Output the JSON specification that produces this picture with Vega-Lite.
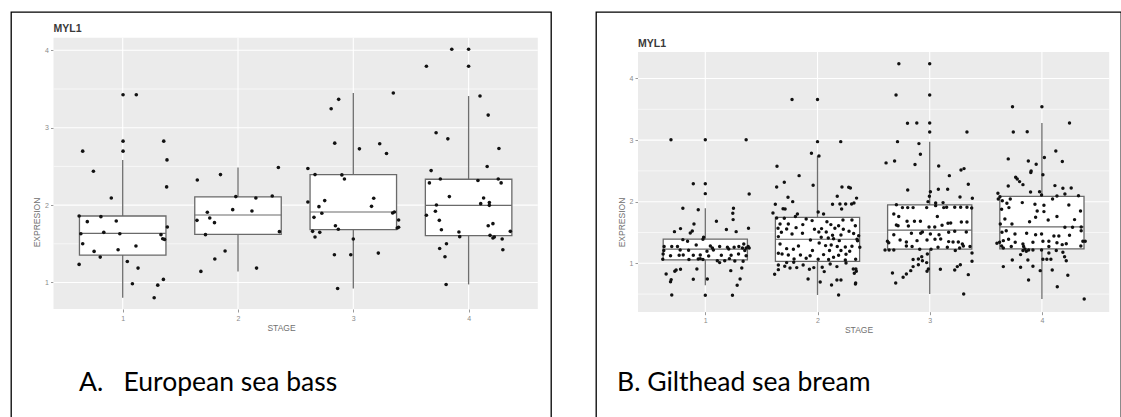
{
  "$schema": "https://vega.github.io/schema/vega-lite/v6.json",
  "background": "white",
  "padding": {"left": 10, "top": 11, "right": 0, "bottom": 0},
  "spacing": 43,
  "config": {
    "view": {"stroke": "#000000", "strokeWidth": 1.3, "fill": "white"},
    "axis": {"labelFont": "Liberation Sans", "titleFont": "Liberation Sans", "domain": false, "grid": false, "ticks": true, "tickSize": 3, "tickColor": "#9a9a9a", "labelFontSize": 7, "labelColor": "#8a8a8a", "labelPadding": 2, "titleFontSize": 8.5, "titleColor": "#707070", "titleFontWeight": "normal", "labelFlush": false}
  },
  "datasets": {
    "gridMajor": [{"g": 1}, {"g": 2}, {"g": 3}, {"g": 4}],
    "gridMinorA": [{"g": 1.5}, {"g": 2.5}, {"g": 3.5}],
    "gridMinorB": [{"g": 0.5}, {"g": 1.5}, {"g": 2.5}, {"g": 3.5}],
    "boxA": [
      {"stage": 1, "lower": 0.802, "q1": 1.354, "median": 1.635, "q3": 1.859, "upper": 2.584},
      {"stage": 2, "lower": 1.143, "q1": 1.622, "median": 1.872, "q3": 2.105, "upper": 2.485},
      {"stage": 3, "lower": 0.923, "q1": 1.682, "median": 1.911, "q3": 2.394, "upper": 3.448},
      {"stage": 4, "lower": 0.975, "q1": 1.605, "median": 1.997, "q3": 2.334, "upper": 3.409}
    ],
    "boxB": [
      {"stage": 1, "lower": 0.643, "q1": 1.057, "median": 1.23, "q3": 1.392, "upper": 1.893},
      {"stage": 2, "lower": 0.486, "q1": 1.03, "median": 1.39, "q3": 1.747, "upper": 2.743},
      {"stage": 3, "lower": 0.502, "q1": 1.23, "median": 1.538, "q3": 1.948, "upper": 2.975},
      {"stage": 4, "lower": 0.421, "q1": 1.235, "median": 1.592, "q3": 2.085, "upper": 3.277}
    ],
    "ptsA": [
      {"x":0.622,"y":1.234},{"x":0.653,"y":2.697},{"x":0.746,"y":2.438},{"x":0.622,"y":1.859},{"x":0.693,"y":1.786},{"x":0.811,"y":1.851},{"x":0.637,"y":1.63},{"x":0.653,"y":1.501},{"x":0.752,"y":1.402},{"x":0.805,"y":1.328},{"x":0.836,"y":1.648},{"x":0.901,"y":2.092},{"x":0.944,"y":1.795},{"x":0.96,"y":1.423},{"x":0.975,"y":1.63},{"x":1.003,"y":3.426},{"x":1.118,"y":3.426},{"x":1.003,"y":2.826},{"x":1.003,"y":2.697},{"x":1.04,"y":1.272},{"x":1.084,"y":0.983},{"x":1.115,"y":1.471},{"x":1.133,"y":1.186},{"x":1.273,"y":0.802},{"x":1.304,"y":0.966},{"x":1.353,"y":1.04},{"x":1.356,"y":2.826},{"x":1.384,"y":2.584},{"x":1.381,"y":2.235},{"x":1.387,"y":1.717},{"x":1.332,"y":1.618},{"x":1.347,"y":1.566},{"x":1.363,"y":1.557},
      {"x":1.647,"y":2.325},{"x":1.644,"y":1.803},{"x":1.678,"y":1.143},{"x":1.734,"y":1.907},{"x":1.755,"y":1.833},{"x":1.718,"y":1.618},{"x":1.796,"y":1.773},{"x":1.799,"y":1.303},{"x":1.848,"y":2.394},{"x":1.888,"y":1.406},{"x":1.954,"y":1.941},{"x":1.981,"y":2.11},{"x":2.121,"y":1.924},{"x":2.155,"y":2.092},{"x":2.161,"y":1.186},{"x":2.297,"y":2.118},{"x":2.35,"y":2.485},{"x":2.359,"y":1.657},
      {"x":2.606,"y":2.472},{"x":2.606,"y":2.04},{"x":2.668,"y":2.394},{"x":2.808,"y":3.245},{"x":2.873,"y":3.366},{"x":2.839,"y":2.8},{"x":2.702,"y":1.98},{"x":2.752,"y":2.058},{"x":2.727,"y":1.894},{"x":2.659,"y":1.842},{"x":2.647,"y":1.661},{"x":2.668,"y":1.587},{"x":2.709,"y":1.648},{"x":2.901,"y":2.39},{"x":2.923,"y":2.338},{"x":2.845,"y":1.734},{"x":2.87,"y":1.687},{"x":2.836,"y":1.359},{"x":2.864,"y":0.923},{"x":2.978,"y":1.359},{"x":3.0,"y":1.562},{"x":3.053,"y":2.727},{"x":3.177,"y":2.088},{"x":3.158,"y":1.984},{"x":3.229,"y":2.792},{"x":3.288,"y":2.666},{"x":3.217,"y":1.38},{"x":3.347,"y":3.448},{"x":3.341,"y":1.898},{"x":3.356,"y":1.911},{"x":3.393,"y":1.807},{"x":3.381,"y":1.704},{"x":3.393,"y":1.713},
      {"x":3.634,"y":3.793},{"x":3.854,"y":4.013},{"x":4.0,"y":4.013},{"x":4.0,"y":3.793},{"x":4.099,"y":3.409},{"x":3.718,"y":2.934},{"x":3.82,"y":2.856},{"x":3.675,"y":2.446},{"x":3.66,"y":2.287},{"x":3.755,"y":2.338},{"x":3.833,"y":2.11},{"x":3.721,"y":2.002},{"x":3.634,"y":1.868},{"x":3.712,"y":1.92},{"x":3.746,"y":1.803},{"x":3.764,"y":1.682},{"x":3.749,"y":1.44},{"x":3.808,"y":1.501},{"x":3.795,"y":1.333},{"x":3.805,"y":0.975},{"x":3.916,"y":1.652},{"x":3.923,"y":1.592},{"x":4.081,"y":2.317},{"x":4.13,"y":2.092},{"x":4.105,"y":2.019},{"x":4.18,"y":2.032},{"x":4.18,"y":1.997},{"x":4.161,"y":2.498},{"x":4.17,"y":3.163},{"x":4.263,"y":2.731},{"x":4.257,"y":2.338},{"x":4.282,"y":2.287},{"x":4.17,"y":1.734},{"x":4.211,"y":1.76},{"x":4.186,"y":1.609},{"x":4.211,"y":1.574},{"x":4.223,"y":1.587},{"x":4.291,"y":1.562},{"x":4.297,"y":1.423},{"x":4.362,"y":1.661}
    ],
    "ptsB": [
      {"x":0.694,"y":3.007},{"x":1.0,"y":3.007},{"x":1.364,"y":3.007},{"x":0.893,"y":2.293},{"x":1.0,"y":2.293},{"x":1.0,"y":2.131},{"x":1.391,"y":2.126},{"x":0.8,"y":1.893},{"x":0.937,"y":1.871},{"x":1.251,"y":1.893},{"x":1.245,"y":1.812},{"x":1.248,"y":1.709},{"x":1.099,"y":1.682},{"x":1.385,"y":1.568},{"x":0.725,"y":1.514},{"x":0.779,"y":1.563},{"x":0.899,"y":1.639},{"x":0.866,"y":1.492},{"x":0.884,"y":1.525},{"x":1.188,"y":1.547},{"x":1.275,"y":1.514},{"x":0.8,"y":1.384},{"x":0.842,"y":1.357},{"x":0.985,"y":1.422},{"x":0.979,"y":1.39},{"x":0.633,"y":1.271},{"x":0.701,"y":1.271},{"x":0.752,"y":1.271},{"x":0.919,"y":1.298},{"x":1.045,"y":1.281},{"x":1.063,"y":1.249},{"x":1.128,"y":1.271},{"x":1.197,"y":1.26},{"x":1.257,"y":1.26},{"x":1.299,"y":1.271},{"x":1.343,"y":1.314},{"x":1.364,"y":1.249},{"x":1.382,"y":1.271},{"x":1.391,"y":1.249},{"x":0.63,"y":1.206},{"x":0.776,"y":1.216},{"x":0.851,"y":1.211},{"x":1.015,"y":1.195},{"x":1.072,"y":1.216},{"x":1.209,"y":1.233},{"x":1.331,"y":1.249},{"x":1.352,"y":1.206},{"x":0.624,"y":1.152},{"x":0.69,"y":1.124},{"x":0.767,"y":1.13},{"x":0.803,"y":1.135},{"x":0.893,"y":1.13},{"x":0.955,"y":1.135},{"x":1.03,"y":1.119},{"x":1.143,"y":1.13},{"x":1.23,"y":1.13},{"x":1.296,"y":1.152},{"x":1.364,"y":1.124},{"x":0.621,"y":1.065},{"x":0.854,"y":1.06},{"x":0.937,"y":1.07},{"x":0.955,"y":1.076},{"x":0.979,"y":1.06},{"x":1.107,"y":1.043},{"x":1.173,"y":1.043},{"x":1.215,"y":1.076},{"x":1.263,"y":1.038},{"x":1.337,"y":1.032},{"x":0.651,"y":0.827},{"x":0.728,"y":0.87},{"x":0.74,"y":0.892},{"x":0.779,"y":0.903},{"x":0.696,"y":0.735},{"x":0.69,"y":0.702},{"x":0.893,"y":0.74},{"x":0.925,"y":0.908},{"x":1.018,"y":0.746},{"x":1.128,"y":1.011},{"x":1.227,"y":0.881},{"x":1.31,"y":0.746},{"x":1.325,"y":0.924},{"x":1.284,"y":0.643},{"x":0.701,"y":0.486},{"x":1.0,"y":0.481},{"x":1.242,"y":0.481},
      {"x":1.639,"y":2.575},{"x":1.836,"y":2.423},{"x":1.704,"y":2.315},{"x":1.636,"y":2.239},{"x":1.961,"y":2.266},{"x":2.218,"y":2.239},{"x":2.278,"y":2.234},{"x":2.293,"y":2.223},{"x":2.176,"y":2.088},{"x":1.737,"y":2.071},{"x":1.779,"y":2.001},{"x":1.624,"y":1.958},{"x":2.134,"y":1.958},{"x":2.2,"y":1.963},{"x":2.251,"y":1.963},{"x":2.304,"y":1.963},{"x":2.325,"y":1.979},{"x":1.693,"y":1.887},{"x":1.711,"y":1.882},{"x":1.603,"y":1.817},{"x":1.821,"y":1.801},{"x":2.006,"y":1.833},{"x":2.054,"y":1.801},{"x":2.215,"y":1.882},{"x":1.636,"y":1.736},{"x":1.704,"y":1.731},{"x":1.803,"y":1.758},{"x":1.899,"y":1.72},{"x":1.952,"y":1.693},{"x":2.084,"y":1.676},{"x":2.227,"y":1.703},{"x":2.307,"y":1.703},{"x":1.666,"y":1.639},{"x":1.74,"y":1.639},{"x":1.869,"y":1.628},{"x":2.119,"y":1.628},{"x":2.188,"y":1.611},{"x":2.337,"y":1.611},{"x":1.648,"y":1.568},{"x":1.725,"y":1.557},{"x":1.809,"y":1.579},{"x":1.973,"y":1.552},{"x":2.036,"y":1.563},{"x":2.155,"y":1.568},{"x":2.23,"y":1.552},{"x":2.281,"y":1.519},{"x":1.678,"y":1.503},{"x":1.773,"y":1.476},{"x":1.866,"y":1.487},{"x":2.012,"y":1.509},{"x":2.078,"y":1.509},{"x":2.134,"y":1.455},{"x":2.209,"y":1.46},{"x":2.322,"y":1.482},{"x":1.651,"y":1.433},{"x":1.937,"y":1.379},{"x":2.033,"y":1.422},{"x":2.096,"y":1.411},{"x":2.143,"y":1.4},{"x":2.194,"y":1.368},{"x":2.352,"y":1.39},{"x":1.666,"y":1.314},{"x":1.725,"y":1.238},{"x":1.83,"y":1.281},{"x":2.015,"y":1.33},{"x":2.072,"y":1.287},{"x":2.122,"y":1.298},{"x":2.176,"y":1.271},{"x":2.248,"y":1.265},{"x":2.307,"y":1.276},{"x":1.785,"y":1.227},{"x":1.955,"y":1.206},{"x":2.107,"y":1.206},{"x":2.209,"y":1.206},{"x":2.287,"y":1.195},{"x":1.651,"y":1.162},{"x":1.684,"y":1.152},{"x":1.74,"y":1.135},{"x":1.848,"y":1.135},{"x":1.934,"y":1.124},{"x":2.054,"y":1.141},{"x":2.188,"y":1.13},{"x":2.254,"y":1.146},{"x":1.791,"y":1.07},{"x":1.899,"y":1.081},{"x":2.006,"y":1.065},{"x":2.099,"y":1.06},{"x":2.143,"y":1.097},{"x":2.248,"y":1.054},{"x":2.34,"y":1.065},{"x":1.651,"y":0.973},{"x":1.708,"y":0.951},{"x":1.755,"y":0.924},{"x":1.815,"y":0.93},{"x":1.872,"y":0.973},{"x":1.928,"y":0.903},{"x":1.967,"y":0.93},{"x":2.042,"y":0.935},{"x":2.06,"y":0.865},{"x":2.113,"y":0.989},{"x":2.173,"y":0.946},{"x":2.254,"y":1.005},{"x":2.319,"y":0.908},{"x":2.328,"y":0.838},{"x":2.346,"y":0.87},{"x":1.725,"y":1.011},{"x":1.788,"y":1.016},{"x":1.618,"y":0.821},{"x":1.651,"y":0.897},{"x":1.916,"y":0.746},{"x":2.024,"y":0.697},{"x":2.125,"y":0.648},{"x":2.173,"y":0.729},{"x":2.209,"y":0.729},{"x":2.34,"y":0.681},{"x":2.188,"y":0.486},{"x":1.773,"y":3.66},{"x":2.0,"y":3.66},{"x":2.0,"y":2.975},{"x":2.207,"y":2.975},{"x":1.946,"y":2.786},{"x":2.013,"y":2.743},{"x":2.348,"y":2.058},{"x":2.357,"y":1.367},{"x":2.367,"y":1.448},{"x":2.342,"y":0.908},{"x":2.338,"y":0.665},{"x":2.377,"y":1.259},
      {"x":2.725,"y":4.238},{"x":3.0,"y":4.238},{"x":2.7,"y":3.731},{"x":3.0,"y":3.731},{"x":2.802,"y":3.272},{"x":2.885,"y":3.277},{"x":3.0,"y":3.277},{"x":3.0,"y":3.132},{"x":3.332,"y":3.132},{"x":2.713,"y":2.975},{"x":2.904,"y":2.943},{"x":2.917,"y":2.77},{"x":2.869,"y":2.603},{"x":2.687,"y":2.662},{"x":2.611,"y":2.63},{"x":3.08,"y":2.58},{"x":3.279,"y":2.515},{"x":3.306,"y":2.537},{"x":3.175,"y":2.423},{"x":3.344,"y":2.282},{"x":2.804,"y":2.19},{"x":3.006,"y":2.163},{"x":3.077,"y":2.201},{"x":3.16,"y":2.201},{"x":3.27,"y":2.077},{"x":3.38,"y":2.055},{"x":2.997,"y":2.088},{"x":2.985,"y":2.001},{"x":3.053,"y":1.979},{"x":3.119,"y":1.985},{"x":2.703,"y":1.952},{"x":2.757,"y":1.904},{"x":2.804,"y":1.904},{"x":2.852,"y":1.904},{"x":2.973,"y":1.904},{"x":3.053,"y":1.936},{"x":3.125,"y":1.904},{"x":3.151,"y":1.909},{"x":3.223,"y":1.909},{"x":3.276,"y":1.909},{"x":3.332,"y":1.909},{"x":3.374,"y":1.898},{"x":2.68,"y":1.801},{"x":2.724,"y":1.758},{"x":2.798,"y":1.682},{"x":2.864,"y":1.682},{"x":2.917,"y":1.682},{"x":3.068,"y":1.758},{"x":3.163,"y":1.649},{"x":3.187,"y":1.655},{"x":3.282,"y":1.671},{"x":3.332,"y":1.671},{"x":2.703,"y":1.622},{"x":2.718,"y":1.611},{"x":2.81,"y":1.606},{"x":2.994,"y":1.59},{"x":3.045,"y":1.59},{"x":3.11,"y":1.617},{"x":2.68,"y":1.465},{"x":2.837,"y":1.487},{"x":2.92,"y":1.487},{"x":2.935,"y":1.509},{"x":3.006,"y":1.476},{"x":3.083,"y":1.465},{"x":3.169,"y":1.503},{"x":3.223,"y":1.519},{"x":3.326,"y":1.509},{"x":2.623,"y":1.357},{"x":2.635,"y":1.335},{"x":2.736,"y":1.379},{"x":2.792,"y":1.346},{"x":2.887,"y":1.368},{"x":2.976,"y":1.379},{"x":3.047,"y":1.39},{"x":3.098,"y":1.395},{"x":3.169,"y":1.352},{"x":3.208,"y":1.346},{"x":3.255,"y":1.346},{"x":3.291,"y":1.314},{"x":3.3,"y":1.281},{"x":3.359,"y":1.271},{"x":2.602,"y":1.216},{"x":2.638,"y":1.216},{"x":2.68,"y":1.216},{"x":2.792,"y":1.281},{"x":2.843,"y":1.271},{"x":2.911,"y":1.227},{"x":3.012,"y":1.227},{"x":3.074,"y":1.26},{"x":3.157,"y":1.26},{"x":3.267,"y":1.249},{"x":2.852,"y":1.06},{"x":2.899,"y":1.07},{"x":2.929,"y":1.108},{"x":2.935,"y":1.043},{"x":2.979,"y":1.152},{"x":2.973,"y":1.011},{"x":2.988,"y":0.908},{"x":2.976,"y":0.87},{"x":2.899,"y":0.978},{"x":2.852,"y":0.946},{"x":3.095,"y":0.903},{"x":3.223,"y":0.892},{"x":3.246,"y":0.946},{"x":3.273,"y":0.978},{"x":3.228,"y":1.206},{"x":3.377,"y":1.032},{"x":3.377,"y":1.168},{"x":3.344,"y":0.816},{"x":2.668,"y":0.843},{"x":2.697,"y":0.681},{"x":2.763,"y":0.773},{"x":2.792,"y":0.827},{"x":2.831,"y":0.881},{"x":3.303,"y":0.502},
      {"x":3.738,"y":3.542},{"x":4.0,"y":3.542},{"x":3.745,"y":3.132},{"x":3.869,"y":3.137},{"x":4.246,"y":3.277},{"x":3.7,"y":2.695},{"x":3.879,"y":2.662},{"x":3.949,"y":2.608},{"x":4.022,"y":2.716},{"x":4.124,"y":2.824},{"x":4.182,"y":2.651},{"x":3.901,"y":2.473},{"x":3.904,"y":2.5},{"x":3.7,"y":2.255},{"x":3.766,"y":2.396},{"x":3.78,"y":2.369},{"x":3.801,"y":2.326},{"x":3.831,"y":2.277},{"x":4.009,"y":2.439},{"x":4.116,"y":2.261},{"x":4.187,"y":2.218},{"x":4.261,"y":2.223},{"x":4.205,"y":2.126},{"x":4.134,"y":2.093},{"x":3.979,"y":2.163},{"x":3.997,"y":2.109},{"x":3.899,"y":2.158},{"x":3.608,"y":2.136},{"x":3.626,"y":2.082},{"x":3.611,"y":2.044},{"x":3.647,"y":2.017},{"x":3.688,"y":1.974},{"x":3.718,"y":2.044},{"x":3.825,"y":1.985},{"x":3.938,"y":1.958},{"x":4.018,"y":1.942},{"x":4.095,"y":2.044},{"x":4.24,"y":1.947},{"x":4.326,"y":2.098},{"x":3.641,"y":1.877},{"x":3.706,"y":1.904},{"x":3.958,"y":1.85},{"x":4.018,"y":1.839},{"x":4.344,"y":1.85},{"x":3.67,"y":1.72},{"x":3.733,"y":1.639},{"x":3.89,"y":1.676},{"x":3.944,"y":1.747},{"x":4.056,"y":1.703},{"x":4.134,"y":1.758},{"x":4.291,"y":1.709},{"x":3.629,"y":1.639},{"x":4.205,"y":1.584},{"x":4.273,"y":1.584},{"x":4.35,"y":1.59},{"x":3.644,"y":1.503},{"x":3.682,"y":1.53},{"x":3.76,"y":1.476},{"x":3.864,"y":1.487},{"x":3.944,"y":1.465},{"x":3.997,"y":1.476},{"x":4.107,"y":1.444},{"x":4.151,"y":1.444},{"x":4.246,"y":1.455},{"x":4.35,"y":1.53},{"x":3.623,"y":1.341},{"x":3.656,"y":1.368},{"x":3.703,"y":1.39},{"x":3.762,"y":1.341},{"x":3.831,"y":1.314},{"x":3.92,"y":1.341},{"x":4.009,"y":1.357},{"x":4.062,"y":1.357},{"x":4.134,"y":1.335},{"x":4.217,"y":1.319},{"x":4.365,"y":1.357},{"x":4.386,"y":1.357},{"x":3.599,"y":1.325},{"x":3.641,"y":1.281},{"x":3.727,"y":1.271},{"x":3.837,"y":1.271},{"x":4.062,"y":1.271},{"x":4.181,"y":1.303},{"x":4.347,"y":1.281},{"x":3.656,"y":1.249},{"x":3.831,"y":1.206},{"x":3.849,"y":1.233},{"x":3.861,"y":1.195},{"x":3.882,"y":1.216},{"x":3.92,"y":1.216},{"x":3.997,"y":1.216},{"x":4.128,"y":1.206},{"x":4.187,"y":1.179},{"x":4.062,"y":1.168},{"x":3.736,"y":1.054},{"x":3.81,"y":1.141},{"x":3.875,"y":1.054},{"x":4.009,"y":1.065},{"x":4.044,"y":1.065},{"x":4.08,"y":1.065},{"x":4.202,"y":1.108},{"x":4.217,"y":1.043},{"x":3.656,"y":0.946},{"x":3.81,"y":0.935},{"x":3.92,"y":0.951},{"x":3.985,"y":0.881},{"x":4.092,"y":0.892},{"x":3.881,"y":0.729},{"x":4.231,"y":0.805},{"x":4.137,"y":0.621},{"x":4.377,"y":0.421}
    ]
  },
  "hconcat": [
    {
      "width": 540,
      "height": 420,
      "resolve": {"axis": {"x": "independent", "y": "independent"}},
      "title": {"text": "A.\u00a0\u00a0\u00a0European sea bass", "orient": "bottom", "frame": "group", "anchor": "start", "dx": 68, "offset": -41, "baseline": "alphabetic", "font": "Lato", "fontSize": 26.5, "fontWeight": "normal", "color": "#000000"},
      "layer": [
        {
          "data": {"values": [{}]},
          "mark": {"type": "rect", "color": "#EBEBEB"},
          "encoding": {
            "x": {"datum": 0.4, "type": "quantitative", "scale": {"domain": [0.0312, 4.7146], "nice": false, "zero": false, "padding": 0}, "axis": null},
            "x2": {"datum": 4.6},
            "y": {"datum": 0.658, "type": "quantitative", "scale": {"domain": [-0.9316, 4.4948], "nice": false, "zero": false, "padding": 0}, "axis": null},
            "y2": {"datum": 4.163}
          }
        },
        {
          "data": {"name": "gridMinorA"},
          "mark": {"type": "rule", "color": "white", "strokeWidth": 0.6},
          "encoding": {
            "y": {"field": "g", "type": "quantitative", "scale": {"domain": [-0.9316, 4.4948], "nice": false, "zero": false, "padding": 0}, "axis": null},
            "x": {"datum": 0.4, "type": "quantitative", "scale": {"domain": [0.0312, 4.7146], "nice": false, "zero": false, "padding": 0}, "axis": null},
            "x2": {"datum": 4.6}
          }
        },
        {
          "data": {"name": "gridMajor"},
          "mark": {"type": "rule", "color": "white", "strokeWidth": 1.1},
          "encoding": {
            "y": {"field": "g", "type": "quantitative", "scale": {"domain": [-0.9316, 4.4948], "nice": false, "zero": false, "padding": 0}, "axis": null},
            "x": {"datum": 0.4, "type": "quantitative", "scale": {"domain": [0.0312, 4.7146], "nice": false, "zero": false, "padding": 0}, "axis": null},
            "x2": {"datum": 4.6}
          }
        },
        {
          "data": {"name": "gridMajor"},
          "mark": {"type": "rule", "color": "white", "strokeWidth": 1.1},
          "encoding": {
            "x": {"field": "g", "type": "quantitative", "scale": {"domain": [0.0312, 4.7146], "nice": false, "zero": false, "padding": 0}, "axis": null},
            "y": {"datum": 0.658, "type": "quantitative", "scale": {"domain": [-0.9316, 4.4948], "nice": false, "zero": false, "padding": 0}, "axis": null},
            "y2": {"datum": 4.163}
          }
        },
        {
          "data": {"name": "boxA"},
          "mark": {"type": "rule", "color": "#6e6e6e", "strokeWidth": 1.3},
          "encoding": {
            "x": {"field": "stage", "type": "quantitative", "scale": {"domain": [0.0312, 4.7146], "nice": false, "zero": false, "padding": 0}, "axis": null},
            "y": {"field": "lower", "type": "quantitative", "scale": {"domain": [-0.9316, 4.4948], "nice": false, "zero": false, "padding": 0}, "axis": null},
            "y2": {"field": "upper"}
          }
        },
        {
          "data": {"name": "boxA"},
          "mark": {"type": "bar", "width": 86.5, "fill": "white", "stroke": "#6a6a6a", "strokeWidth": 1.3},
          "encoding": {
            "x": {"field": "stage", "type": "quantitative", "scale": {"domain": [0.0312, 4.7146], "nice": false, "zero": false, "padding": 0}, "axis": null},
            "y": {"field": "q1", "type": "quantitative", "scale": {"domain": [-0.9316, 4.4948], "nice": false, "zero": false, "padding": 0}, "axis": null},
            "y2": {"field": "q3"}
          }
        },
        {
          "data": {"name": "boxA"},
          "mark": {"type": "bar", "width": 86.5, "fill": null, "stroke": "#6a6a6a", "strokeWidth": 1.2},
          "encoding": {
            "x": {"field": "stage", "type": "quantitative", "scale": {"domain": [0.0312, 4.7146], "nice": false, "zero": false, "padding": 0}, "axis": null},
            "y": {"field": "median", "type": "quantitative", "scale": {"domain": [-0.9316, 4.4948], "nice": false, "zero": false, "padding": 0}, "axis": null},
            "y2": {"field": "median"}
          }
        },
        {
          "data": {"name": "ptsA"},
          "mark": {"type": "circle", "color": "#111111", "opacity": 1, "size": 13},
          "encoding": {
            "x": {"field": "x", "type": "quantitative", "scale": {"domain": [0.0312, 4.7146], "nice": false, "zero": false, "padding": 0}, "axis": {"values": [1, 2, 3, 4], "format": "d", "title": "STAGE", "offset": -123, "titlePadding": 2}},
            "y": {"field": "y", "type": "quantitative", "scale": {"domain": [-0.9316, 4.4948], "nice": false, "zero": false, "padding": 0}, "axis": {"values": [1, 2, 3, 4], "format": "d", "title": "EXPRESION", "offset": -42.5, "titlePadding": 3}}
          }
        },
        {
          "data": {"values": [{}]},
          "mark": {"type": "text", "text": "MYL1", "align": "left", "baseline": "alphabetic", "dy": -6, "font": "Liberation Sans", "fontSize": 10.5, "fontWeight": "bold", "color": "#3a3a3a"},
          "encoding": {
            "x": {"datum": 0.4, "type": "quantitative", "scale": {"domain": [0.0312, 4.7146], "nice": false, "zero": false, "padding": 0}, "axis": null},
            "y": {"datum": 4.163, "type": "quantitative", "scale": {"domain": [-0.9316, 4.4948], "nice": false, "zero": false, "padding": 0}, "axis": null}
          }
        }
      ]
    },
    {
      "width": 525,
      "height": 420,
      "resolve": {"axis": {"x": "independent", "y": "independent"}},
      "title": {"text": "B. Gilthead sea bream", "orient": "bottom", "frame": "group", "anchor": "start", "dx": 21, "offset": -41, "baseline": "alphabetic", "font": "Lato", "fontSize": 26.5, "fontWeight": "normal", "color": "#000000"},
      "layer": [
        {
          "data": {"values": [{}]},
          "mark": {"type": "rect", "color": "#EBEBEB"},
          "encoding": {
            "x": {"datum": 0.4, "type": "quantitative", "scale": {"domain": [0.0258, 4.7049], "nice": false, "zero": false, "padding": 0}, "axis": null},
            "x2": {"datum": 4.6},
            "y": {"datum": 0.21, "type": "quantitative", "scale": {"domain": [-1.7387, 5.0795], "nice": false, "zero": false, "padding": 0}, "axis": null},
            "y2": {"datum": 4.43}
          }
        },
        {
          "data": {"name": "gridMinorB"},
          "mark": {"type": "rule", "color": "white", "strokeWidth": 0.6},
          "encoding": {
            "y": {"field": "g", "type": "quantitative", "scale": {"domain": [-1.7387, 5.0795], "nice": false, "zero": false, "padding": 0}, "axis": null},
            "x": {"datum": 0.4, "type": "quantitative", "scale": {"domain": [0.0258, 4.7049], "nice": false, "zero": false, "padding": 0}, "axis": null},
            "x2": {"datum": 4.6}
          }
        },
        {
          "data": {"name": "gridMajor"},
          "mark": {"type": "rule", "color": "white", "strokeWidth": 1.1},
          "encoding": {
            "y": {"field": "g", "type": "quantitative", "scale": {"domain": [-1.7387, 5.0795], "nice": false, "zero": false, "padding": 0}, "axis": null},
            "x": {"datum": 0.4, "type": "quantitative", "scale": {"domain": [0.0258, 4.7049], "nice": false, "zero": false, "padding": 0}, "axis": null},
            "x2": {"datum": 4.6}
          }
        },
        {
          "data": {"name": "gridMajor"},
          "mark": {"type": "rule", "color": "white", "strokeWidth": 1.1},
          "encoding": {
            "x": {"field": "g", "type": "quantitative", "scale": {"domain": [0.0258, 4.7049], "nice": false, "zero": false, "padding": 0}, "axis": null},
            "y": {"datum": 0.21, "type": "quantitative", "scale": {"domain": [-1.7387, 5.0795], "nice": false, "zero": false, "padding": 0}, "axis": null},
            "y2": {"datum": 4.43}
          }
        },
        {
          "data": {"name": "boxB"},
          "mark": {"type": "rule", "color": "#6e6e6e", "strokeWidth": 1.3},
          "encoding": {
            "x": {"field": "stage", "type": "quantitative", "scale": {"domain": [0.0258, 4.7049], "nice": false, "zero": false, "padding": 0}, "axis": null},
            "y": {"field": "lower", "type": "quantitative", "scale": {"domain": [-1.7387, 5.0795], "nice": false, "zero": false, "padding": 0}, "axis": null},
            "y2": {"field": "upper"}
          }
        },
        {
          "data": {"name": "boxB"},
          "mark": {"type": "bar", "width": 84.2, "fill": "white", "stroke": "#6a6a6a", "strokeWidth": 1.3},
          "encoding": {
            "x": {"field": "stage", "type": "quantitative", "scale": {"domain": [0.0258, 4.7049], "nice": false, "zero": false, "padding": 0}, "axis": null},
            "y": {"field": "q1", "type": "quantitative", "scale": {"domain": [-1.7387, 5.0795], "nice": false, "zero": false, "padding": 0}, "axis": null},
            "y2": {"field": "q3"}
          }
        },
        {
          "data": {"name": "boxB"},
          "mark": {"type": "bar", "width": 84.2, "fill": null, "stroke": "#6a6a6a", "strokeWidth": 1.2},
          "encoding": {
            "x": {"field": "stage", "type": "quantitative", "scale": {"domain": [0.0258, 4.7049], "nice": false, "zero": false, "padding": 0}, "axis": null},
            "y": {"field": "median", "type": "quantitative", "scale": {"domain": [-1.7387, 5.0795], "nice": false, "zero": false, "padding": 0}, "axis": null},
            "y2": {"field": "median"}
          }
        },
        {
          "data": {"name": "ptsB"},
          "mark": {"type": "circle", "color": "#111111", "opacity": 1, "size": 12},
          "encoding": {
            "x": {"field": "x", "type": "quantitative", "scale": {"domain": [0.0258, 4.7049], "nice": false, "zero": false, "padding": 0}, "axis": {"values": [1, 2, 3, 4], "format": "d", "title": "STAGE", "offset": -120.3, "titlePadding": 2}},
            "y": {"field": "y", "type": "quantitative", "scale": {"domain": [-1.7387, 5.0795], "nice": false, "zero": false, "padding": 0}, "axis": {"values": [1, 2, 3, 4], "format": "d", "title": "EXPRESION", "offset": -42, "titlePadding": 3}}
          }
        },
        {
          "data": {"values": [{}]},
          "mark": {"type": "text", "text": "MYL1", "align": "left", "baseline": "alphabetic", "dy": -5.5, "font": "Liberation Sans", "fontSize": 10.5, "fontWeight": "bold", "color": "#3a3a3a"},
          "encoding": {
            "x": {"datum": 0.4, "type": "quantitative", "scale": {"domain": [0.0258, 4.7049], "nice": false, "zero": false, "padding": 0}, "axis": null},
            "y": {"datum": 4.43, "type": "quantitative", "scale": {"domain": [-1.7387, 5.0795], "nice": false, "zero": false, "padding": 0}, "axis": null}
          }
        }
      ]
    }
  ]
}
